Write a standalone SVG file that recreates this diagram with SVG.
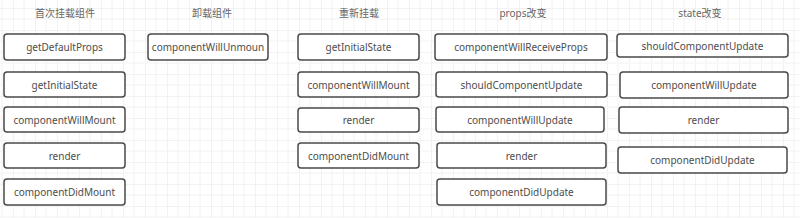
<svg xmlns="http://www.w3.org/2000/svg" width="800" height="218" viewBox="0 0 800 218">
  <defs>
    <pattern id="grid" x="13" y="8" width="22" height="22" patternUnits="userSpaceOnUse">
      <path d="M0 0H22M0 0V22" fill="none" stroke="#e6e6e6" stroke-width="1"/>
      <path d="M11 0V22M0 11H22" fill="none" stroke="#f2f2f2" stroke-width="1"/>
    </pattern>
  </defs>
  <style>
    .box { fill: #ffffff; stroke: #4a4a4a; stroke-width: 1.5; }
    .lbl { font-family: "Noto Sans", "Noto Sans CJK SC", sans-serif; font-size: 10px; fill: #4d4d4d; text-anchor: middle; dominant-baseline: central; }
    .ttl { font-family: "Noto Sans", "Noto Sans CJK SC", sans-serif; font-size: 10px; fill: #666666; text-anchor: middle; dominant-baseline: central; }
  </style>
  <rect x="0" y="0" width="800" height="218" fill="#ffffff"/>
  <rect x="0" y="0" width="800" height="218" fill="url(#grid)"/>

  <g id="titles">
    <text class="ttl" x="65" y="13">首次挂载组件</text>
    <text class="ttl" x="212" y="13">卸载组件</text>
    <text class="ttl" x="359" y="13">重新挂载</text>
    <text class="ttl" x="523" y="13">props改变</text>
    <text class="ttl" x="700" y="13">state改变</text>
  </g>

  <g id="connectors"></g>

  <!-- Column 1: 首次挂载组件 -->
  <g id="c1-getDefaultProps"><rect class="box" x="4" y="34" width="121" height="26" rx="3"/><text class="lbl" x="64.5" y="47">getDefaultProps</text></g>
  <g id="c1-getInitialState"><rect class="box" x="4" y="72" width="121" height="25" rx="3"/><text class="lbl" x="64.5" y="84.5">getInitialState</text></g>
  <g id="c1-componentWillMount"><rect class="box" x="4" y="107" width="121" height="25" rx="3"/><text class="lbl" x="64.5" y="119.5">componentWillMount</text></g>
  <g id="c1-render"><rect class="box" x="4" y="143" width="121" height="25" rx="3"/><text class="lbl" x="64.5" y="155.5">render</text></g>
  <g id="c1-componentDidMount"><rect class="box" x="4" y="179" width="121" height="26" rx="3"/><text class="lbl" x="64.5" y="192">componentDidMount</text></g>

  <!-- Column 2: 卸载组件 -->
  <g id="c2-componentWillUnmount"><rect class="box" x="148" y="34" width="120" height="26" rx="3"/><text class="lbl" x="208" y="47">componentWillUnmoun</text></g>

  <!-- Column 3: 重新挂载 -->
  <g id="c3-getInitialState"><rect class="box" x="298" y="34" width="121" height="26" rx="3"/><text class="lbl" x="358.5" y="47">getInitialState</text></g>
  <g id="c3-componentWillMount"><rect class="box" x="298" y="72" width="121" height="25" rx="3"/><text class="lbl" x="358.5" y="84.5">componentWillMount</text></g>
  <g id="c3-render"><rect class="box" x="298" y="108" width="121" height="24" rx="3"/><text class="lbl" x="358.5" y="120">render</text></g>
  <g id="c3-componentDidMount"><rect class="box" x="298" y="143" width="121" height="25" rx="3"/><text class="lbl" x="358.5" y="155.5">componentDidMount</text></g>

  <!-- Column 4: props改变 -->
  <g id="c4-componentWillReceiveProps"><rect class="box" x="435" y="34" width="172" height="26" rx="3"/><text class="lbl" x="521" y="47">componentWillReceiveProps</text></g>
  <g id="c4-shouldComponentUpdate"><rect class="box" x="436" y="72" width="171" height="25" rx="3"/><text class="lbl" x="521.5" y="84.5">shouldComponentUpdate</text></g>
  <g id="c4-componentWillUpdate"><rect class="box" x="436" y="107" width="168" height="25" rx="3"/><text class="lbl" x="520" y="119.5">componentWillUpdate</text></g>
  <g id="c4-render"><rect class="box" x="437" y="143" width="169" height="25" rx="3"/><text class="lbl" x="521.5" y="155.5">render</text></g>
  <g id="c4-componentDidUpdate"><rect class="box" x="437" y="179" width="169" height="26" rx="3"/><text class="lbl" x="521.5" y="192">componentDidUpdate</text></g>

  <!-- Column 5: state改变 -->
  <g id="c5-shouldComponentUpdate"><rect class="box" x="617" y="34" width="171" height="23" rx="3"/><text class="lbl" x="702.5" y="45.5">shouldComponentUpdate</text></g>
  <g id="c5-componentWillUpdate"><rect class="box" x="620" y="72" width="168" height="26" rx="3"/><text class="lbl" x="704" y="85">componentWillUpdate</text></g>
  <g id="c5-render"><rect class="box" x="619" y="107" width="169" height="26" rx="3"/><text class="lbl" x="703.5" y="120">render</text></g>
  <g id="c5-componentDidUpdate"><rect class="box" x="618" y="147" width="169" height="26" rx="3"/><text class="lbl" x="702.5" y="160">componentDidUpdate</text></g>
</svg>
